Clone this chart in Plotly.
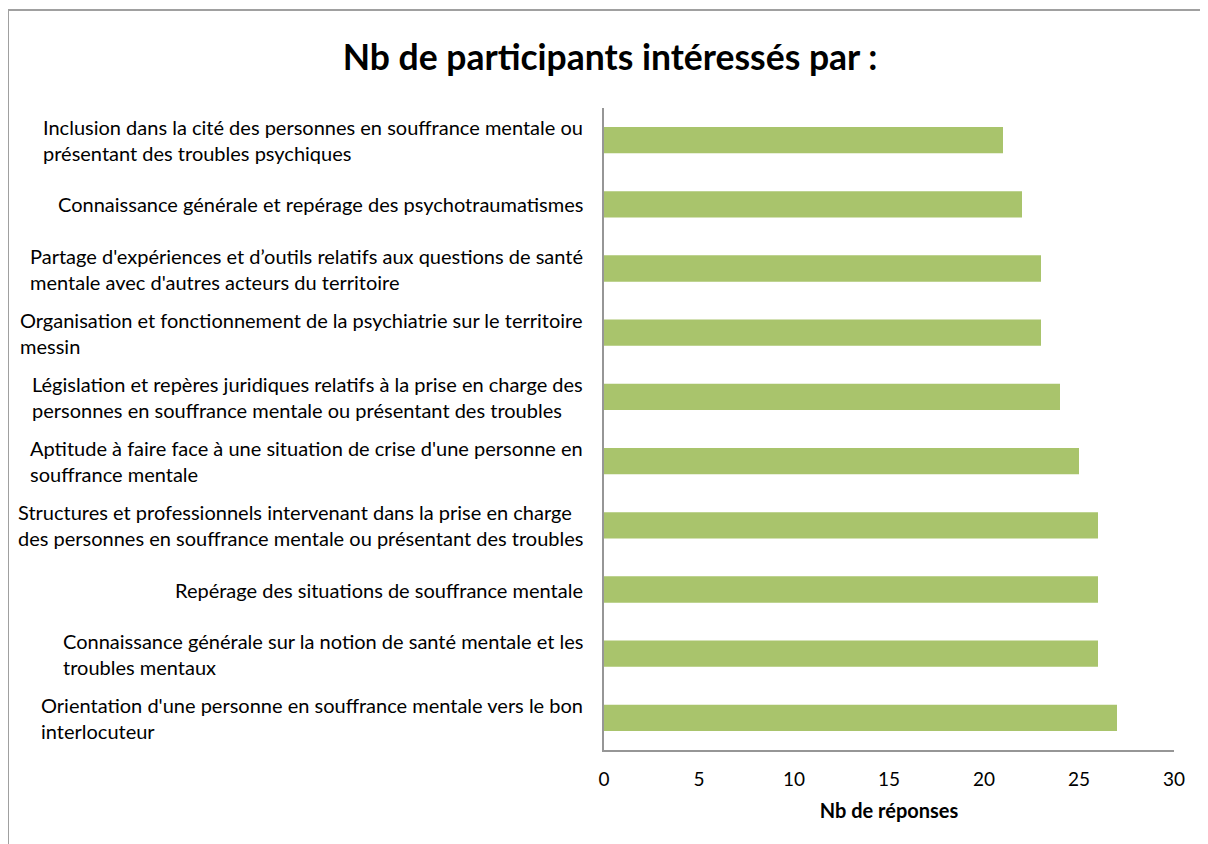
import plotly.graph_objects as go

TITLE = "Nb de participants intéressés par :"
X_TITLE = "Nb de réponses"

topics = [
    "Inclusion dans la cité des personnes en souffrance mentale ou<br>présentant des troubles psychiques",
    "Connaissance générale et repérage des psychotraumatismes",
    "Partage d'expériences et d’outils relatifs aux questions de santé<br>mentale avec d'autres acteurs du territoire",
    "Organisation et fonctionnement de la psychiatrie sur le territoire<br>messin",
    "Législation et repères juridiques relatifs à la prise en charge des<br>personnes en souffrance mentale ou présentant des troubles",
    "Aptitude à faire face à une situation de crise d'une personne en<br>souffrance mentale",
    "Structures et professionnels intervenant dans la prise en charge<br>des personnes en souffrance mentale ou présentant des troubles",
    "Repérage des situations de souffrance mentale",
    "Connaissance générale sur la notion de santé mentale et les<br>troubles mentaux",
    "Orientation d'une personne en souffrance mentale vers le bon<br>interlocuteur",
]
responses = [21, 22, 23, 23, 24, 25, 26, 26, 26, 27]
x_ticks = [0, 5, 10, 15, 20, 25, 30]

BAR_GREEN = "#a9c46c"
AXIS_GRAY = "#969696"
FONT = "Lato"

# the page puts the figure 8px in from the top-left corner
OFF = 8
W, H = 1208 - OFF, 844 - OFF
# plot area in screen pixels: x 604..1174, y 108..750
L, R, T, B = 604 - OFF, 1208 - 1174, 108 - OFF, 844 - 750
PW, PH = W - L - R, H - T - B


def px_x(p):
    return (p - OFF - L) / PW


def px_y(p):
    return (H - B - (p - OFF)) / PH


fig = go.Figure(
    go.Bar(
        x=responses,
        y=list(range(len(topics))),
        orientation="h",
        marker={"color": BAR_GREEN, "line": {"width": 0}},
        width=0.41,
        hoverinfo="x",
    )
)

for i, label in enumerate(topics):
    fig.add_annotation(
        x=px_x(585), xref="paper", xanchor="right",
        y=i, yref="y", yanchor="middle",
        text=label, align="left", showarrow=False,
        font={"family": FONT, "size": 20, "color": "#000000"},
    )

# chart frame (only top and left edges are visible in the crop)
fig.add_shape(type="line", xref="paper", yref="paper",
              x0=px_x(8), x1=px_x(1230), y0=px_y(10), y1=px_y(10),
              line={"color": "#a0a0a0", "width": 2})
fig.add_shape(type="line", xref="paper", yref="paper",
              x0=px_x(8), x1=px_x(8), y0=px_y(10), y1=px_y(880),
              line={"color": "#a0a0a0", "width": 2})

fig.update_layout(
    width=W,
    height=H,
    margin={"l": L, "r": R, "t": T, "b": B},
    paper_bgcolor="white",
    plot_bgcolor="white",
    showlegend=False,
    font={"family": FONT, "color": "#000000"},
    title={
        "text": f"<b>{TITLE}</b>",
        "x": (610 - OFF) / W, "xanchor": "center",
        "y": 1 - (58 - OFF) / H, "yanchor": "middle",
        "font": {"family": FONT, "size": 35.5, "color": "#000000"},
    },
    xaxis={
        "range": [0, 30],
        "tickvals": x_ticks,
        "showgrid": False,
        "zeroline": False,
        "showline": True,
        "linecolor": AXIS_GRAY,
        "linewidth": 2,
        "ticks": "",
        "ticklabelstandoff": 11,
        "tickfont": {"family": FONT, "size": 19},
        "title": {"text": f"<b>{X_TITLE}</b>", "font": {"family": FONT, "size": 20}, "standoff": 15},
    },
    yaxis={
        "range": [9.5, -0.5],
        "showticklabels": False,
        "showgrid": False,
        "zeroline": False,
        "showline": True,
        "linecolor": AXIS_GRAY,
        "linewidth": 2,
        "ticks": "",
    },
)

fig.write_html("out.html")
